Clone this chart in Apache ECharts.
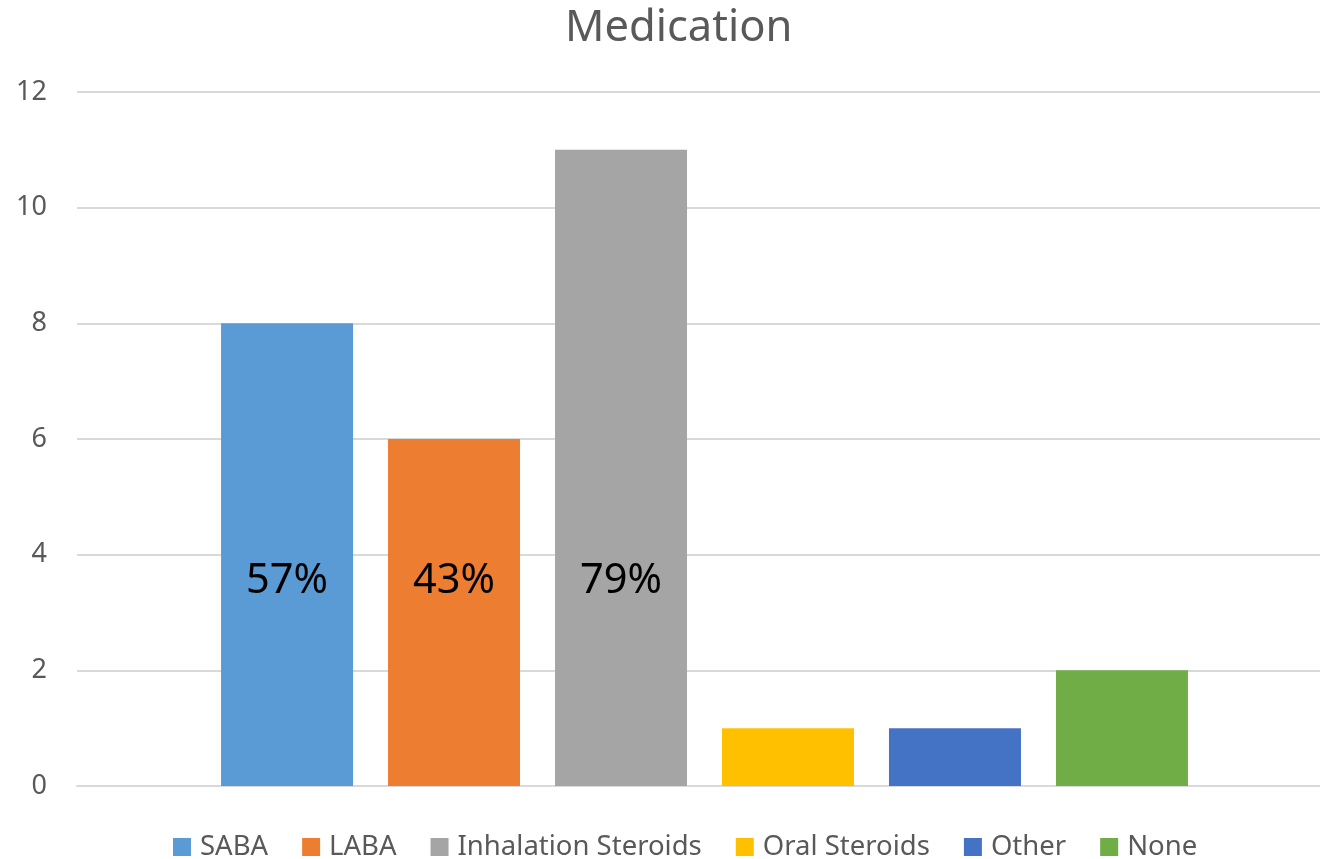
<!DOCTYPE html>
<html lang="en">

<head>
    <meta charset="UTF-8">
    <title>Medication</title>
    <script src="https://cdn.jsdelivr.net/npm/echarts@6/dist/echarts.min.js"></script>
    <style>
        body { margin: 0; background: #fff; }
    </style>
</head>

<body>
    <div id="main" style="width: 1320px;height:859px;"></div>
    <script type="text/javascript">
        // data
        var categories = [''];
        var seriesNames = ['SABA', 'LABA', 'Inhalation Steroids', 'Oral Steroids', 'Other', 'None'];
        var seriesValues = [8, 6, 11, 1, 1, 2];
        var barLabels = ['57%', '43%', '79%', '', '', ''];
        var colors = ['#5B9BD5', '#ED7D31', '#A5A5A5', '#FFC000', '#4472C4', '#70AD47'];

        var myChart = echarts.init(document.getElementById('main'));

        var series = seriesNames.map(function (name, i) {
            return {
                name: name,
                type: 'bar',
                data: [seriesValues[i]],
                barWidth: 132,
                barGap: '26.5%',
                itemStyle: { color: colors[i] },
                label: {
                    show: barLabels[i] !== '',
                    position: 'insideBottom',
                    distance: 184,
                    formatter: barLabels[i],
                    color: '#000',
                    fontSize: 41.5,
                    fontFamily: 'Noto Sans'
                }
            };
        });

        var option = {
            animation: false,
            textStyle: { fontFamily: 'Noto Sans' },
            title: {
                text: 'Medication',
                left: 560,
                top: 2,
                textStyle: { fontSize: 43.5, fontWeight: 'normal', color: '#595959', fontFamily: 'Noto Sans' }
            },
            legend: {
                data: seriesNames,
                bottom: -7,
                left: 168,
                itemWidth: 18,
                itemHeight: 18,
                itemGap: 34,
                icon: 'rect',
                textStyle: { fontSize: 27.5, color: '#595959', padding: [0, 0, 0, 4] }
            },
            grid: { left: 77, right: -12, top: 92, bottom: 73, outerBoundsMode: 'none' },
            xAxis: {
                type: 'category',
                data: categories,
                axisLine: { lineStyle: { color: '#d9d9d9', width: 2 } },
                axisTick: { show: false },
                axisLabel: { show: false }
            },
            yAxis: {
                type: 'value',
                min: 0,
                max: 12,
                interval: 2,
                axisLine: { show: false },
                axisTick: { show: false },
                axisLabel: { fontSize: 27, color: '#595959', margin: 30 },
                splitLine: { lineStyle: { color: '#d9d9d9', width: 2 } }
            },
            series: series
        };

        myChart.setOption(option);
    </script>
</body>

</html>
